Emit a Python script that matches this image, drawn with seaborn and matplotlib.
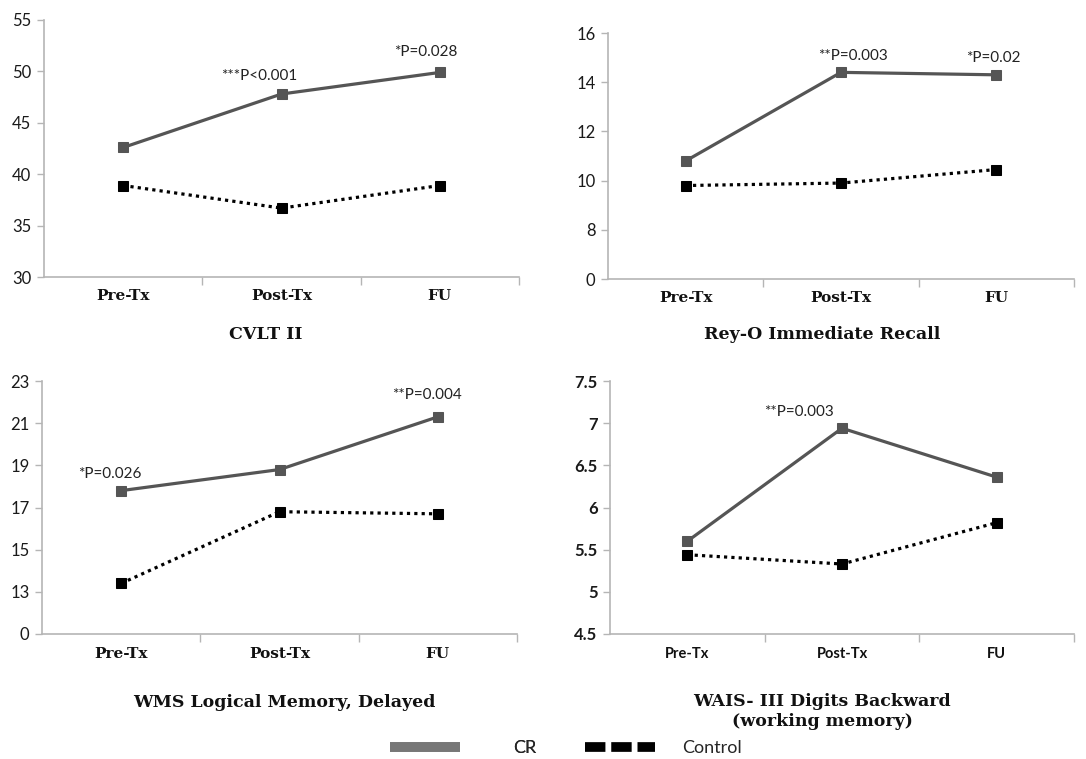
import matplotlib
matplotlib.use("Agg")
import matplotlib.pyplot as plt
from matplotlib.lines import Line2D
import seaborn as sns

sns.set_style("white")
plt.rcParams["font.family"] = ["Lato", "DejaVu Sans"]

# Assessment time points
categories = ["Pre-Tx", "Post-Tx", "FU"]

# Group means per measure
cvlt_cr = [42.6, 47.8, 49.9]
cvlt_ctrl = [38.9, 36.7, 38.9]
rey_cr = [10.8, 14.4, 14.3]
rey_ctrl = [9.8, 9.9, 10.45]
wms_cr = [17.8, 18.8, 21.3]
wms_ctrl = [13.4, 16.8, 16.7]
wais_cr = [5.6, 6.94, 6.36]
wais_ctrl = [5.44, 5.33, 5.82]

# Y tick values and their printed labels (two panels use a broken axis at 0)
cvlt_ticks = [30, 35, 40, 45, 50, 55]
cvlt_labels = ["30", "35", "40", "45", "50", "55"]
rey_ticks = [6, 8, 10, 12, 14, 16]
rey_labels = ["0", "8", "10", "12", "14", "16"]
wms_ticks = [11, 13, 15, 17, 19, 21, 23]
wms_labels = ["0", "13", "15", "17", "19", "21", "23"]
wais_ticks = [4.5, 5, 5.5, 6, 6.5, 7, 7.5]
wais_labels = ["4.5", "5", "5.5", "6", "6.5", "7", "7.5"]

# Titles and significance annotations
titles = ["CVLT II", "Rey-O Immediate Recall", "WMS Logical Memory, Delayed",
          "WAIS- III Digits Backward\n(working memory)"]
cvlt_notes = [("***P<0.001", 0.86, 49.55), ("*P=0.028", 1.91, 51.9)]
rey_notes = [("**P=0.003", 1.08, 15.06), ("*P=0.02", 1.98, 14.98)]
wms_notes = [("*P=0.026", -0.07, 18.6), ("**P=0.004", 1.93, 22.34)]
wais_notes = [("**P=0.003", 0.725, 7.13)]

CR_COLOR = "#555555"
CTRL_COLOR = "#000000"
AXIS_COLOR = "#b5b5b5"

fig = plt.figure(figsize=(10.86, 7.59), dpi=100)

W, H = 1086, 759
def box(l, t, r, b):
    return [l / W, 1 - b / H, (r - l) / W, (b - t) / H]

panels = [
    dict(rect=box(44, 20, 519, 277), cr=cvlt_cr, ctrl=cvlt_ctrl, ticks=cvlt_ticks,
         labels=cvlt_labels, notes=cvlt_notes, title=titles[0], tpos=(0.467, -0.222),
         ybold=False, xserif=True),
    dict(rect=box(608, 33, 1074, 279), cr=rey_cr, ctrl=rey_ctrl, ticks=rey_ticks,
         labels=rey_labels, notes=rey_notes, title=titles[1], tpos=(0.459, -0.224),
         ybold=False, xserif=True),
    dict(rect=box(42, 381, 517, 634), cr=wms_cr, ctrl=wms_ctrl, ticks=wms_ticks,
         labels=wms_labels, notes=wms_notes, title=titles[2], tpos=(0.51, -0.269),
         ybold=False, xserif=True),
    dict(rect=box(610, 381, 1074, 634), cr=wais_cr, ctrl=wais_ctrl, ticks=wais_ticks,
         labels=wais_labels, notes=wais_notes, title=titles[3], tpos=(0.457, -0.305),
         ybold=True, xserif=False),
]

for p in panels:
    ax = fig.add_axes(p["rect"])
    sns.lineplot(x=categories, y=p["cr"], ax=ax, sort=False, color=CR_COLOR,
                 linewidth=2.3, marker="s", markersize=7.5, markerfacecolor=CR_COLOR,
                 markeredgecolor=CR_COLOR)
    sns.lineplot(x=categories, y=p["ctrl"], ax=ax, sort=False, color=CTRL_COLOR,
                 linewidth=2.3, linestyle=(0, (1, 1.3)), marker="s", markersize=7.5,
                 markerfacecolor=CTRL_COLOR, markeredgecolor=CTRL_COLOR)
    ax.set_xlim(-0.5, 2.5)
    ax.set_ylim(p["ticks"][0], p["ticks"][-1])
    ax.set_yticks(p["ticks"])
    ax.set_yticklabels(p["labels"], fontsize=12,
                       fontweight="bold" if p["ybold"] else "normal", color="#1a1a1a")
    ax.set_xticks([0, 1, 2])
    if p["xserif"]:
        ax.set_xticklabels(categories, fontsize=11, fontweight="bold",
                           family="DejaVu Serif", color="#111111")
    else:
        ax.set_xticklabels(categories, fontsize=10.5, fontweight="bold", color="#111111")
    ax.set_xticks([0.5, 1.5, 2.5], minor=True)
    ax.tick_params(axis="x", which="major", length=0, pad=9)
    ax.tick_params(axis="x", which="minor", length=6, width=1, color=AXIS_COLOR,
                   direction="out", bottom=True)
    ax.tick_params(axis="y", length=5, width=1, color=AXIS_COLOR, direction="out",
                   left=True, pad=4)
    for s in ("top", "right"):
        ax.spines[s].set_visible(False)
    for s in ("left", "bottom"):
        ax.spines[s].set_color(AXIS_COLOR)
        ax.spines[s].set_linewidth(1.2)
    ax.set_xlabel("")
    ax.set_ylabel("")
    for txt, x, y in p["notes"]:
        ax.text(x, y, txt, ha="center", va="center", fontsize=11, color="#222222")
    ax.text(p["tpos"][0], p["tpos"][1], p["title"], transform=ax.transAxes,
            ha="center", va="center", fontsize=12.5, fontweight="bold",
            family="DejaVu Serif", color="#111111", linespacing=1.25)
    ax.grid(False)

# Legend: two entries placed side by side along the bottom edge
cr_handle = Line2D([], [], color="#777777", linewidth=7, solid_capstyle="butt")
ctrl_handle = Line2D([], [], color="#000000", linewidth=7, dashes=(2.1, 0.6),
                     dash_capstyle="butt")
leg_cr = fig.legend([cr_handle], ["CR"], loc="lower left",
                    bbox_to_anchor=(390 / W, 0.004), frameon=False, fontsize=13,
                    handlelength=3.9, handletextpad=2.9, borderpad=0, borderaxespad=0)
fig.add_artist(leg_cr)
fig.legend([ctrl_handle], ["Control"], loc="lower left",
           bbox_to_anchor=(585 / W, 0.004), frameon=False, fontsize=13,
           handlelength=3.9, handletextpad=1.5, borderpad=0, borderaxespad=0)

fig.savefig("out.png", dpi=100)
